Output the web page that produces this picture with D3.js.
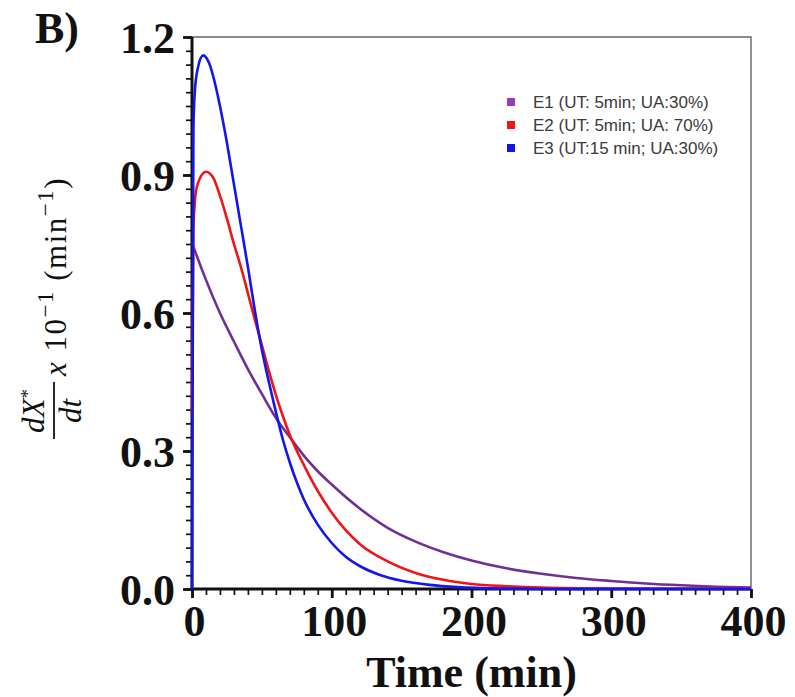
<!DOCTYPE html>
<html>
<head>
<meta charset="utf-8">
<script src="https://cdn.jsdelivr.net/npm/d3@7"></script>
<style>
  body { margin: 0; background: #fff; }
  svg { display: block; }
</style>
</head>
<body>
<div id="chart"></div>
<script>
// series (time in min, dX*/dt x 10^-1 in min^-1)
var seriesNames = ["E1 (UT: 5min; UA:30%)", "E2 (UT: 5min; UA: 70%)", "E3 (UT:15 min; UA:30%)"];

var timeE1 = [0, 10, 20, 30, 40, 50, 60, 70, 80, 90, 100, 120, 140, 160, 180, 200, 225, 250, 275, 300, 325, 350, 375, 400];
var valE1 = [0.752, 0.672, 0.600, 0.538, 0.478, 0.424, 0.372, 0.330, 0.290, 0.256, 0.227, 0.175, 0.133, 0.103, 0.080, 0.062, 0.045, 0.033, 0.024, 0.0175, 0.012, 0.008, 0.005, 0.003];

var timeE2 = [0, 1, 2, 4, 10, 15, 20, 25, 30, 35, 40, 45, 50, 55, 60, 65, 70, 80, 90, 100, 110, 120, 140, 160, 180, 200, 225, 250, 300, 400];
var valE2 = [0.38, 0.78, 0.84, 0.88, 0.907, 0.895, 0.855, 0.805, 0.750, 0.700, 0.643, 0.585, 0.530, 0.474, 0.422, 0.376, 0.335, 0.270, 0.213, 0.166, 0.128, 0.098, 0.060, 0.035, 0.020, 0.011, 0.006, 0.003, 0.001, 0];

var timeE3 = [0, 1, 2, 4, 8, 12, 16, 20, 25, 30, 35, 40, 45, 50, 55, 60, 65, 70, 75, 80, 90, 100, 110, 120, 135, 150, 170, 190, 220, 260, 400];
var valE3 = [0, 1.00, 1.08, 1.13, 1.16, 1.145, 1.105, 1.05, 0.97, 0.88, 0.79, 0.70, 0.605, 0.52, 0.45, 0.385, 0.325, 0.275, 0.232, 0.195, 0.14, 0.10, 0.07, 0.05, 0.03, 0.018, 0.009, 0.004, 0.001, 0, 0];

var xTicks = [0, 100, 200, 300, 400];
var yTicks = [0.0, 0.3, 0.6, 0.9, 1.2];

var lineColors = ["#702f96", "#f01414", "#1414f0"];
var legendColors = ["#9c3cb4", "#f01414", "#1414e6"];

var width = 795, height = 697;
var margin = {left: 192, right: 44, top: 37, bottom: 108};

var svg = d3.select("#chart").append("svg")
    .attr("width", width)
    .attr("height", height);

var x = d3.scaleLinear().domain([0, 400]).range([margin.left, width - margin.right]);
var y = d3.scaleLinear().domain([0, 1.2]).range([height - margin.bottom, margin.top]);

var serif = "'Liberation Serif', 'Times New Roman', serif";

// frame (top & right thin grey)
svg.append("path")
    .attr("d", "M" + x(0) + "," + y(1.2) + "H" + x(400) + "V" + y(0))
    .attr("fill", "none")
    .attr("stroke", "#666")
    .attr("stroke-width", 1.4);

// minor ticks
var xMinor = d3.range(0, 401, 10);
var yMinor = d3.range(0, 41).map(function(i) { return i * 0.03; });

var xMinorAxis = svg.append("g")
    .attr("transform", "translate(0," + y(0) + ")")
    .call(d3.axisBottom(x).tickValues(xMinor).tickSize(6).tickFormat(""));
var yMinorAxis = svg.append("g")
    .attr("transform", "translate(" + x(0) + ",0)")
    .call(d3.axisLeft(y).tickValues(yMinor).tickSize(6).tickFormat(""));

// major ticks + labels
var xAxis = svg.append("g")
    .attr("transform", "translate(0," + y(0) + ")")
    .call(d3.axisBottom(x).tickValues(xTicks).tickSize(9).tickPadding(7).tickFormat(d3.format("d")));
var yAxis = svg.append("g")
    .attr("transform", "translate(" + x(0) + ",0)")
    .call(d3.axisLeft(y).tickValues(yTicks).tickSize(9).tickPadding(8).tickFormat(d3.format(".1f")));

[xMinorAxis, yMinorAxis, xAxis, yAxis].forEach(function(a) {
    a.select(".domain").remove();
    a.selectAll(".tick line").attr("stroke", "#111");
});
xMinorAxis.selectAll(".tick line").attr("stroke-width", 1.7);
yMinorAxis.selectAll(".tick line").attr("stroke-width", 1.7);
xAxis.selectAll(".tick line").attr("stroke-width", 2.8);
yAxis.selectAll(".tick line").attr("stroke-width", 2.8);

xAxis.selectAll("text")
    .attr("dx", 2)
    .attr("fill", "#111")
    .style("font-family", serif)
    .style("font-weight", "bold")
    .style("font-size", "44px");
yAxis.selectAll("text")
    .attr("dy", "0.36em")
    .attr("x", -17)
    .attr("fill", "#111")
    .style("font-family", serif)
    .style("font-weight", "bold")
    .style("font-size", "44px");

// main axes lines
svg.append("line")
    .attr("x1", x(0)).attr("x2", x(0))
    .attr("y1", y(0) + 1.5).attr("y2", y(1.2))
    .attr("stroke", "#111").attr("stroke-width", 3);
svg.append("line")
    .attr("x1", x(0) - 1.5).attr("x2", x(400))
    .attr("y1", y(0)).attr("y2", y(0))
    .attr("stroke", "#111").attr("stroke-width", 3);

// x title
svg.append("text")
    .attr("x", (x(0) + x(400)) / 2)
    .attr("y", 687)
    .attr("text-anchor", "middle")
    .attr("fill", "#111")
    .style("font-family", serif)
    .style("font-weight", "bold")
    .style("font-size", "44px")
    .text("Time (min)");

// panel letter
svg.append("text")
    .attr("x", 35)
    .attr("y", 43)
    .attr("fill", "#111")
    .style("font-family", serif)
    .style("font-weight", "bold")
    .style("font-size", "44px")
    .text("B)");

// y title: fraction dX*/dt x 10^-1 (min^-1), rotated
var yl = svg.append("g")
    .attr("transform", "rotate(-90)")
    .style("font-family", serif)
    .style("font-size", "31px")
    .attr("fill", "#111");

var yl_num = yl.append("text")
    .attr("x", -411)
    .attr("y", 44)
    .attr("text-anchor", "middle");
yl_num.append("tspan").style("font-style", "italic").text("dX");
yl_num.append("tspan").attr("dy", -10).style("font-size", "19px").text("*");

yl.append("text")
    .attr("x", -411)
    .attr("y", 81)
    .attr("text-anchor", "middle")
    .style("font-style", "italic")
    .text("dt");

yl.append("line")
    .attr("x1", -439).attr("x2", -382)
    .attr("y1", 54).attr("y2", 54)
    .attr("stroke", "#111").attr("stroke-width", 1.8);

var yl_rest = yl.append("text")
    .attr("x", -376)
    .attr("y", 66)
    .style("letter-spacing", "1.5px");
yl_rest.append("tspan").style("font-style", "italic").text("x");
yl_rest.append("tspan").text(" 10");
yl_rest.append("tspan").attr("dy", -13).style("font-size", "23px").text("\u22121");
yl_rest.append("tspan").attr("dy", 13).text(" (min");
yl_rest.append("tspan").attr("dy", -13).style("font-size", "23px").text("\u22121");
yl_rest.append("tspan").attr("dy", 13).text(")");

// curves
var series = [
    {t: timeE1, v: valE1},
    {t: timeE2, v: valE2},
    {t: timeE3, v: valE3}
];

var line = d3.line()
    .x(function(d) { return x(d[0]); })
    .y(function(d) { return y(d[1]); })
    .curve(d3.curveMonotoneX);

series.forEach(function(s, i) {
    var pts = s.t.map(function(t, j) { return [t, s.v[j]]; });
    svg.append("path")
        .datum(pts)
        .attr("d", line)
        .attr("fill", "none")
        .attr("stroke", lineColors[i])
        .attr("stroke-width", 2.6)
        .attr("stroke-linejoin", "round");
});

// legend
var legend = svg.append("g")
    .selectAll("g")
    .data(seriesNames)
    .enter().append("g")
    .attr("transform", function(d, i) { return "translate(507," + (102 + i * 23) + ")"; });

legend.append("rect")
    .attr("x", 0).attr("y", -4)
    .attr("width", 8).attr("height", 8)
    .attr("fill", function(d, i) { return legendColors[i]; });

legend.append("text")
    .attr("x", 26)
    .attr("y", 6)
    .style("font-family", "'Liberation Sans', Arial, sans-serif")
    .style("font-size", "17px")
    .attr("fill", "#3a3a3a")
    .text(function(d) { return d; });
</script>
</body>
</html>
